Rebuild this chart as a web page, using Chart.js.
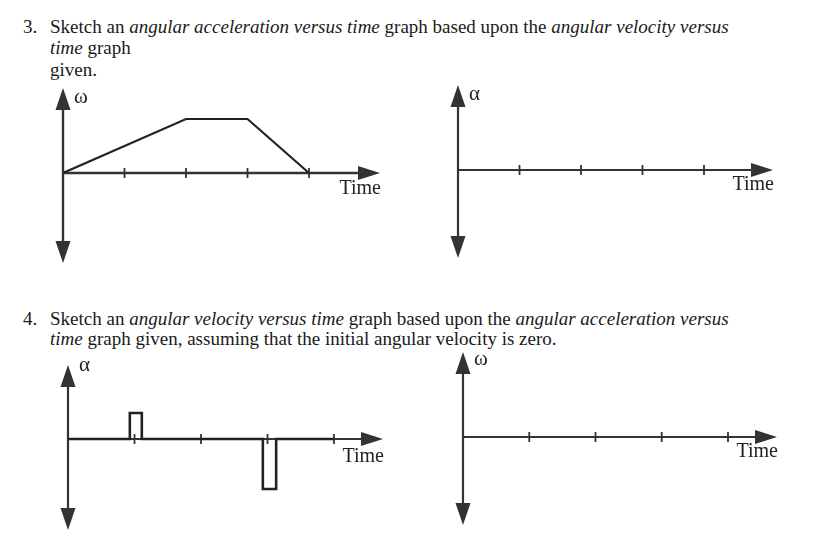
<!DOCTYPE html>
<html>
<head>
<meta charset="utf-8">
<script src="https://cdn.jsdelivr.net/npm/chart.js@4.4.1/dist/chart.umd.min.js"></script>
<style>
  body { margin: 0; background: #fff; }
  #page { position: relative; width: 813px; height: 560px; overflow: hidden; font-family: "Liberation Serif", serif; color: #1a1a1a; }
  .ln { position: absolute; font-size: 19px; line-height: 21px; white-space: nowrap; }
  .cv { position: absolute; }
</style>
</head>
<body>
<div id="page">
  <div class="ln" style="left:23px;top:16px">3.</div>
  <div class="ln" style="left:50px;top:16px">Sketch an <i>angular acceleration versus time</i> graph based upon the <i>angular velocity versus</i></div>
  <div class="ln" style="left:50px;top:37px"><i>time</i> graph</div>
  <div class="ln" style="left:50px;top:59px">given.</div>

  <div class="ln" style="left:23px;top:308px">4.</div>
  <div class="ln" style="left:50px;top:308px">Sketch an <i>angular velocity versus time</i> graph based upon the <i>angular acceleration versus</i></div>
  <div class="ln" style="left:50px;top:328px"><i>time</i> graph given, assuming that the initial angular velocity is zero.</div>

  <canvas id="c1" class="cv"></canvas>
  <canvas id="c2" class="cv"></canvas>
  <canvas id="c3" class="cv"></canvas>
  <canvas id="c4" class="cv"></canvas>
</div>
<script>
// tick marks on every time axis
var timeTicks = [1, 2, 3, 4];

// question 3: given angular velocity
var omegaTime = [0, 2, 3, 4];
var omegaValue = [0, 1, 1, 0];

// question 4: given angular acceleration (two short pulses)
var alphaTime = [0, 0.93, 0.93, 1.11, 1.11, 2.93, 2.93, 3.13, 3.13, 4];
var alphaValue = [0, 0, 1.04, 1.04, 0, 0, -2, -2, 0, 0];

function pts(t, v) {
    var out = [];
    for (var i = 0; i < t.length; i++) out.push({x: t[i], y: v[i]});
    return out;
}

// draws the arrowed axes, tick marks and the axis letters
var sketchAxes = {
    id: 'sketchAxes',
    beforeDatasetsDraw: function (chart, args, o) {
        var ctx = chart.ctx;
        var xs = chart.scales.x, ys = chart.scales.y;
        var x0 = xs.getPixelForValue(0), y0 = ys.getPixelForValue(0);
        var xTip = xs.getPixelForValue(xs.max);
        var yTop = ys.getPixelForValue(ys.max), yBot = ys.getPixelForValue(ys.min);
        var al = 22, aw = 7.5;
        ctx.save();
        ctx.strokeStyle = '#333';
        ctx.fillStyle = '#333';
        ctx.lineWidth = o.axisWidth;
        ctx.beginPath();
        ctx.moveTo(x0, yTop + al - 2); ctx.lineTo(x0, yBot - al + 2);
        ctx.moveTo(x0, y0); ctx.lineTo(xTip - al + 2, y0);
        ctx.stroke();
        // arrow heads
        ctx.beginPath();
        ctx.moveTo(x0, yTop); ctx.lineTo(x0 - aw, yTop + al); ctx.lineTo(x0 + aw, yTop + al); ctx.closePath();
        ctx.moveTo(x0, yBot); ctx.lineTo(x0 - aw, yBot - al); ctx.lineTo(x0 + aw, yBot - al); ctx.closePath();
        ctx.moveTo(xTip, y0); ctx.lineTo(xTip - al, y0 - 7); ctx.lineTo(xTip - al, y0 + 7); ctx.closePath();
        ctx.fill();
        // ticks
        ctx.lineWidth = 1.8;
        ctx.beginPath();
        timeTicks.forEach(function (t) {
            var px = xs.getPixelForValue(t);
            ctx.moveTo(px, y0 - 5); ctx.lineTo(px, y0 + 5);
        });
        ctx.stroke();
        ctx.restore();
    },
    afterDraw: function (chart, args, o) {
        var ctx = chart.ctx;
        var xs = chart.scales.x, ys = chart.scales.y;
        var x0 = xs.getPixelForValue(0), y0 = ys.getPixelForValue(0);
        var xTip = xs.getPixelForValue(xs.max);
        var yTop = ys.getPixelForValue(ys.max);
        ctx.save();
        ctx.fillStyle = '#222';
        ctx.font = '20px "Liberation Serif"';
        ctx.textAlign = 'right';
        ctx.textBaseline = 'alphabetic';
        ctx.fillText('Time', xTip + 1, y0 + o.timeDy);
        ctx.font = '21px "Liberation Serif"';
        ctx.textAlign = 'left';
        ctx.textBaseline = 'middle';
        ctx.fillText(o.yLabel, x0 + 11, yTop + o.labelDy);
        ctx.restore();
    }
};

// panel geometry: origin, px per unit, arrow tips (all in page pixels)
var panels = [
    {id: 'c1', ox: 63, oy: 173, ux: 61.5, uy: 54, tip: 380, top: 88, bot: 263, label: 'ω', labelDy: 9, timeDy: 21, axisWidth: 2.4,
     data: pts(omegaTime, omegaValue), lineWidth: 2.2},
    {id: 'c2', ox: 458, oy: 170, ux: 61.5, uy: 54, tip: 773, top: 85, bot: 258, label: 'α', labelDy: 9, timeDy: 20, axisWidth: 2.2,
     data: [], lineWidth: 2},
    {id: 'c3', ox: 68, oy: 439, ux: 66.5, uy: 25, tip: 383, top: 365, bot: 530, label: 'α', labelDy: 0, timeDy: 23, axisWidth: 2.2,
     data: pts(alphaTime, alphaValue), lineWidth: 2.6},
    {id: 'c4', ox: 463, oy: 437, ux: 66.25, uy: 25, tip: 777, top: 352, bot: 525, label: 'ω', labelDy: 7, timeDy: 20, axisWidth: 2.2,
     data: [], lineWidth: 2}
];

var padL = 12, padR = 4, padT = 14, padB = 2;

panels.forEach(function (p) {
    var cv = document.getElementById(p.id);
    var w = padL + (p.tip - p.ox) + padR;
    var h = padT + (p.bot - p.top) + padB;
    cv.width = w; cv.height = h;
    cv.style.left = (p.ox - padL) + 'px';
    cv.style.top = (p.top - padT) + 'px';
    cv.style.width = w + 'px'; cv.style.height = h + 'px';
    new Chart(cv.getContext('2d'), {
        type: 'line',
        data: {
            datasets: [{
                data: p.data,
                borderColor: '#222',
                borderWidth: p.lineWidth,
                pointRadius: 0,
                tension: 0,
                fill: false
            }]
        },
        options: {
            responsive: false,
            animation: false,
            layout: {padding: {left: padL, right: padR, top: padT, bottom: padB}},
            scales: {
                x: {type: 'linear', display: false, min: 0, max: (p.tip - p.ox) / p.ux},
                y: {type: 'linear', display: false, min: -(p.bot - p.oy) / p.uy, max: (p.oy - p.top) / p.uy}
            },
            plugins: {
                legend: {display: false},
                tooltip: {enabled: false},
                sketchAxes: {yLabel: p.label, labelDy: p.labelDy, timeDy: p.timeDy, axisWidth: p.axisWidth}
            }
        },
        plugins: [sketchAxes]
    });
});
</script>
</body>
</html>
